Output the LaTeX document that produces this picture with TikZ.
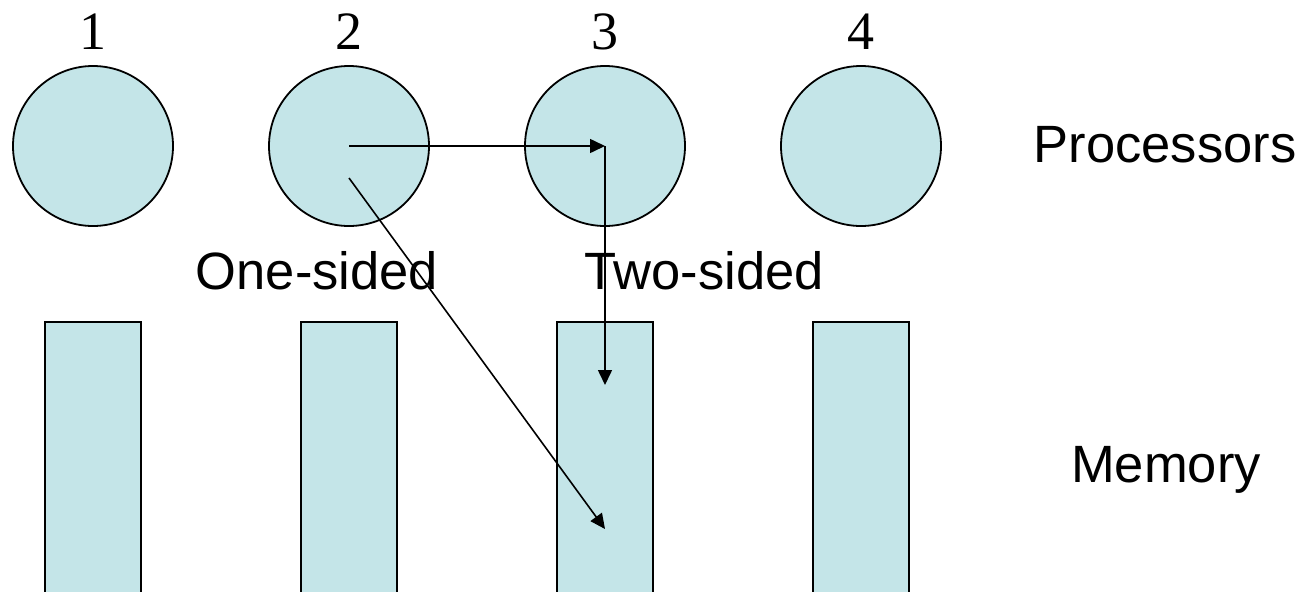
\documentclass[tikz,border=0pt]{standalone}
\usepackage{fontspec}
\setmainfont{Liberation Serif}
\setsansfont{Liberation Sans}
\usetikzlibrary{arrows.meta}
\definecolor{cellfill}{RGB}{196,229,232}
\tikzset{
  proc/.style={circle, draw=black, line width=1.8pt, fill=cellfill, minimum size=160pt, inner sep=0pt},
  mem/.style={rectangle, draw=black, line width=2.6pt, fill=cellfill, minimum width=96pt, minimum height=290pt, inner sep=0pt},
  numlabel/.style={anchor=base, font=\fontsize{54pt}{60pt}\selectfont\rmfamily, inner sep=0pt},
  txtlabel/.style={anchor=base, font=\fontsize{52.5pt}{60pt}\selectfont\sffamily, inner sep=0pt},
  msg/.style={line width=1.6pt, -{Triangle[length=15pt,width=14pt]}}
}
\begin{document}
\begin{tikzpicture}[x=1pt,y=-1pt]
\useasboundingbox (0,0) rectangle (1302,592);
\clip (0,0) rectangle (1302,592);
% memory blocks
\node[mem] (m1) at (93,467) {};
\node[mem] (m2) at (349,467) {};
\node[mem] (m3) at (605,467) {};
\node[mem] (m4) at (861,467) {};
% processors
\node[proc] (p1) at (93,146) {};
\node[proc] (p2) at (349,146) {};
\node[proc] (p3) at (605,146) {};
\node[proc] (p4) at (861,146) {};
% numbers
\node[numlabel] (n1) at (93,49) {1};
\node[numlabel] (n2) at (349,49) {2};
\node[numlabel] (n3) at (605,49) {3};
\node[numlabel] (n4) at (861,49) {4};
% side labels
\node[txtlabel] (lp) at (1165,162) {Processors};
\node[txtlabel] (lm) at (1166,482) {Memory};
\node[txtlabel] (lo) at (317,289) {One-sided};
\node[txtlabel] (lt) at (704,289) {Two-sided};
% connectors
\coordinate (s2) at (349,178);
\coordinate (t3a) at (605,385);
\coordinate (t3b) at (605,529);
\draw[msg] (p2.center) -- (p3.center);
\draw[msg] (p3.center) -- (t3a);
\draw[msg] (s2) -- (t3b);
\end{tikzpicture}
\end{document}
